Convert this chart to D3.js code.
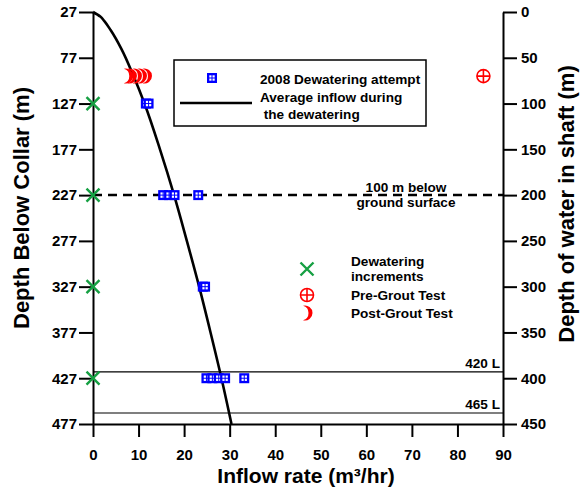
<!DOCTYPE html>
<html>
<head>
<meta charset="utf-8">
<script src="https://cdn.jsdelivr.net/npm/d3@7"></script>
<style>
  html, body { margin: 0; padding: 0; background: #fff; }
  svg { display: block; font-family: "Liberation Sans", Arial, Helvetica, sans-serif; font-weight: bold; }
</style>
</head>
<body>
<svg id="chart" width="582" height="490"></svg>
<script>
// ---- data ----
const inflowTicks = [0, 10, 20, 30, 40, 50, 60, 70, 80, 90];
const collarTicks = [27, 77, 127, 177, 227, 277, 327, 377, 427, 477];
const waterTicks = [0, 50, 100, 150, 200, 250, 300, 350, 400, 450];

// average inflow curve: depth below collar (m) vs inflow (m3/hr)
const avgDepth  = [27, 32, 37, 47, 67, 97, 127, 177, 227, 277, 327, 377, 427, 477];
const avgInflow = [0, 1.6, 2.5, 3.9, 6.2, 8.9, 11.3, 14.7, 17.8, 20.6, 23.3, 25.8, 28.2, 30.4];

// 2008 dewatering attempt measurements
const attemptDepth  = [127, 127, 227, 227, 227, 227, 327, 327, 427, 427, 427, 427, 427];
const attemptInflow = [11.6, 12.2, 15.4, 16.7, 17.9, 23.1, 24.1, 24.6, 24.9, 26.2, 27.6, 29.0, 33.2];

// dewatering increments
const incrementDepth  = [127, 227, 327, 427];
const incrementInflow = [0, 0, 0, 0];

// grout tests
const preGroutDepth  = [97];
const preGroutInflow = [85.7];
const postGroutDepth  = [97, 97, 97, 97, 97];
const postGroutInflow = [7.2, 8.0, 9.1, 10.2, 11.3];

// mine levels
const levelDepths = [420, 465];
const levelLabels = ["420 L", "465 L"];

// ground surface reference
const surfaceDepth = 227;
const surfaceLabel = ["100 m below", "ground surface"];

// ---- layout ----
const svg = d3.select("#chart");
const plotL = 93, plotR = 503, plotT = 12, plotB = 424;

const x = d3.scaleLinear().domain([0, 90]).range([plotL, plotR]);
const yCollar = d3.scaleLinear().domain([27, 477]).range([plotT, plotB]);
const yWater = d3.scaleLinear().domain([0, 450]).range([plotT, plotB]);

const BLUE = "#0000ff", RED = "#ff0000", GREEN = "#16a043";
const LABEL_SIZE = "13.6px";

// ---- axes ----
function styleAxis(g, fontSize) {
  g.selectAll("path.domain").attr("stroke", "#000").attr("stroke-width", 2);
  g.selectAll(".tick line").attr("stroke", "#000").attr("stroke-width", 2);
  g.selectAll(".tick text").attr("fill", "#000").style("font-size", fontSize + "px").style("font-weight", "bold");
  g.attr("font-family", null).attr("font-size", null);
}

const minorCollar = d3.range(27, 478, 10).filter(v => (v - 27) % 50 !== 0);
const minorWater = d3.range(0, 451, 10).filter(v => v % 50 !== 0);
const minorInflow = d3.range(0, 91, 2).filter(v => v % 10 !== 0);

// left axis
const gl = svg.append("g").attr("transform", `translate(${plotL},0)`);
gl.call(d3.axisLeft(yCollar).tickValues(minorCollar).tickSize(6).tickSizeOuter(0).tickFormat(""));
gl.call(d3.axisLeft(yCollar).tickValues(collarTicks).tickSize(14).tickSizeOuter(0).tickPadding(2));
styleAxis(gl, 15);

// right axis
const gr = svg.append("g").attr("transform", `translate(${plotR},0)`);
gr.call(d3.axisRight(yWater).tickValues(minorWater).tickSize(6).tickSizeOuter(0).tickFormat(""));
gr.call(d3.axisRight(yWater).tickValues(waterTicks).tickSize(14).tickSizeOuter(0).tickPadding(4));
styleAxis(gr, 15);

// bottom axis
const gb = svg.append("g").attr("transform", `translate(0,${plotB})`);
gb.call(d3.axisBottom(x).tickValues(minorInflow).tickSize(6).tickSizeOuter(0).tickFormat(""));
gb.call(d3.axisBottom(x).tickValues(inflowTicks).tickSize(13).tickSizeOuter(0).tickPadding(12));
styleAxis(gb, 15);

// axis titles
svg.append("text")
  .attr("transform", `translate(29,208) rotate(-90)`)
  .attr("text-anchor", "middle").style("font-size", "22px")
  .text("Depth Below Collar (m)");
svg.append("text")
  .attr("transform", `translate(574,204) rotate(-90)`)
  .attr("text-anchor", "middle").style("font-size", "22px")
  .text("Depth of water in shaft (m)");
svg.append("text")
  .attr("x", 306).attr("y", 483)
  .attr("text-anchor", "middle").style("font-size", "21px")
  .text("Inflow rate (m³/hr)");

// ---- reference lines ----
levelDepths.forEach((d, i) => {
  svg.append("line")
    .attr("x1", plotL).attr("x2", plotR)
    .attr("y1", yCollar(d)).attr("y2", yCollar(d))
    .attr("stroke", "#000").attr("stroke-width", 1.2);
  svg.append("text")
    .attr("x", 500).attr("y", yCollar(d) - 4)
    .attr("text-anchor", "end").style("font-size", LABEL_SIZE)
    .text(levelLabels[i]);
});

svg.append("line")
  .attr("x1", plotL).attr("x2", plotR)
  .attr("y1", yCollar(surfaceDepth)).attr("y2", yCollar(surfaceDepth))
  .attr("stroke", "#000").attr("stroke-width", 2.5)
  .attr("stroke-dasharray", "9,6");
surfaceLabel.forEach((t, i) => {
  svg.append("text")
    .attr("x", 406).attr("y", yCollar(surfaceDepth) - 3 + i * 15)
    .attr("text-anchor", "middle").style("font-size", LABEL_SIZE)
    .text(t);
});

// ---- markers ----
function squareMarker(g, cx, cy) {
  const s = 10;
  g.append("rect").attr("x", cx - s / 2).attr("y", cy - s / 2)
    .attr("width", s).attr("height", s).attr("fill", BLUE);
  [[-2.7, -2.7], [0.5, -2.7], [-2.7, 0.5], [0.5, 0.5]].forEach(([dx, dy]) => {
    g.append("rect").attr("x", cx + dx).attr("y", cy + dy)
      .attr("width", 2.2).attr("height", 2.2).attr("fill", "#fff");
  });
}
function crossMarker(g, cx, cy) {
  const r = 6.5;
  g.append("path")
    .attr("d", `M${cx - r},${cy - r}L${cx + r},${cy + r}M${cx - r},${cy + r}L${cx + r},${cy - r}`)
    .attr("stroke", GREEN).attr("stroke-width", 2.4).attr("fill", "none");
}
function circlePlusMarker(g, cx, cy) {
  const r = 6.5;
  g.append("circle").attr("cx", cx).attr("cy", cy).attr("r", r)
    .attr("fill", "none").attr("stroke", RED).attr("stroke-width", 1.6);
  g.append("path")
    .attr("d", `M${cx - r},${cy}L${cx + r},${cy}M${cx},${cy - r}L${cx},${cy + r}`)
    .attr("stroke", RED).attr("stroke-width", 1.6);
}
function crescentMarker(g, cx, cy) {
  const r = 7.5, s = 4;
  const h = Math.sqrt(r * r - s * s / 4);
  const x0 = cx - s / 2;
  g.append("path")
    .attr("d", `M${x0},${cy - h}A${r},${r} 0 1 1 ${x0},${cy + h}A${r},${r} 0 0 0 ${x0},${cy - h}Z`)
    .attr("fill", RED);
}

// average inflow curve
const line = d3.line()
  .x((d, i) => x(avgInflow[i]))
  .y(d => yCollar(d))
  .curve(d3.curveMonotoneY);
svg.append("path")
  .datum(avgDepth)
  .attr("d", line)
  .attr("fill", "none").attr("stroke", "#000").attr("stroke-width", 2.6);

const gm = svg.append("g");
attemptDepth.forEach((d, i) => squareMarker(gm, x(attemptInflow[i]), yCollar(d)));
incrementDepth.forEach((d, i) => crossMarker(gm, x(incrementInflow[i]), yCollar(d)));
preGroutDepth.forEach((d, i) => circlePlusMarker(gm, x(preGroutInflow[i]), yCollar(d)));
postGroutDepth.forEach((d, i) => crescentMarker(gm, x(postGroutInflow[i]), yCollar(d)));

// ---- legend box ----
const lg = svg.append("g");
lg.append("rect").attr("x", 174).attr("y", 60).attr("width", 252).attr("height", 66)
  .attr("fill", "#fff").attr("stroke", "#000").attr("stroke-width", 1.5);
squareMarker(lg, 212, 78);
lg.append("text").attr("x", 260).attr("y", 84).style("font-size", LABEL_SIZE).text("2008 Dewatering attempt");
lg.append("line").attr("x1", 180).attr("x2", 252).attr("y1", 103).attr("y2", 103)
  .attr("stroke", "#000").attr("stroke-width", 2.6);
lg.append("text").attr("x", 260).attr("y", 102).style("font-size", LABEL_SIZE).text("Average inflow during");
lg.append("text").attr("x", 260).attr("y", 119).style("font-size", LABEL_SIZE).attr("xml:space", "preserve").text(" the dewatering");

// ---- marker key ----
const kg = svg.append("g");
crossMarker(kg, 307, 269);
kg.append("text").attr("x", 351).attr("y", 266).style("font-size", LABEL_SIZE).text("Dewatering");
kg.append("text").attr("x", 351).attr("y", 281).style("font-size", LABEL_SIZE).text("increments");
circlePlusMarker(kg, 307, 295);
kg.append("text").attr("x", 351).attr("y", 300).style("font-size", LABEL_SIZE).text("Pre-Grout Test");
crescentMarker(kg, 305, 313);
kg.append("text").attr("x", 351).attr("y", 318).style("font-size", LABEL_SIZE).text("Post-Grout Test");
</script>
</body>
</html>
